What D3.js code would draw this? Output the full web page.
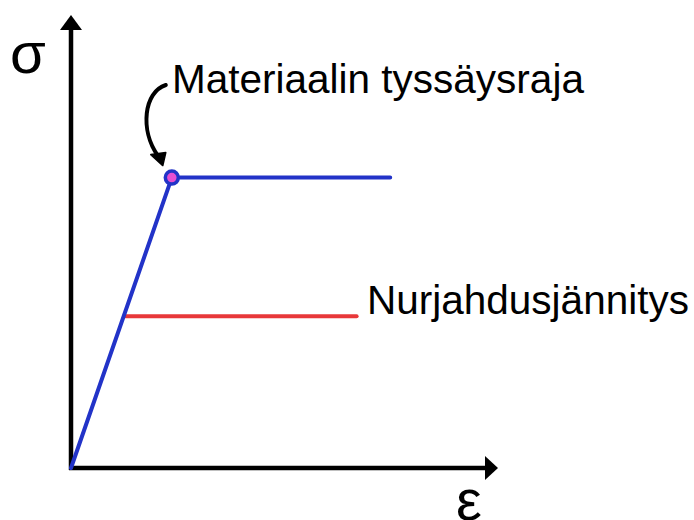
<!DOCTYPE html>
<html>
<head>
<meta charset="utf-8">
<script src="https://cdn.jsdelivr.net/npm/d3@7"></script>
<style>
  body { margin: 0; background: #fff; }
  text { font-family: 'Liberation Sans', Arial, sans-serif; fill: #000; }
</style>
</head>
<body>
<svg id="chart"></svg>
<script>
const W = 694
const H = 520

// strain / stress in arbitrary units (0..100)
const yieldCurve = [[0, 0], [24, 66], [76, 66]]
const bucklingLine = [[13, 34.5], [68, 34.5]]
const yieldPoint = [24, 66]
const labels = ['Materiaalin tyssäysraja', 'Nurjahdusjännitys']
const axisLabels = ['σ', 'ε']

const blue = '#2233c8'
const red = '#e8383a'

const x = d3.scaleLinear().domain([0, 100]).range([71, 491])
const y = d3.scaleLinear().domain([0, 100]).range([468, 28])

const svg = d3.select('#chart').attr('width', W).attr('height', H)

const line = d3.line().x(d => x(d[0])).y(d => y(d[1]))

// axes
svg.append('line')
  .attr('x1', x(0)).attr('y1', y(0) + 2)
  .attr('x2', x(0)).attr('y2', 28)
  .attr('stroke', '#000').attr('stroke-width', 4.5)
svg.append('path')
  .attr('d', `M${x(0)},15 L${x(0) - 11},30 L${x(0) + 11},30 Z`)
  .attr('fill', '#000')

svg.append('line')
  .attr('x1', x(0) - 2).attr('y1', y(0))
  .attr('x2', 487).attr('y2', y(0))
  .attr('stroke', '#000').attr('stroke-width', 4.5)
svg.append('path')
  .attr('d', `M498,${y(0)} L485,${y(0) - 12} L485,${y(0) + 12} Z`)
  .attr('fill', '#000')

svg.append('text').attr('x', 10).attr('y', 73)
  .attr('font-size', 58).text(axisLabels[0])
// the reference crops the epsilon at the bottom edge
svg.append('text').attr('x', 456).attr('y', 520)
  .attr('font-size', 58).text(axisLabels[1])

// buckling stress
svg.append('path')
  .attr('d', line(bucklingLine))
  .attr('fill', 'none')
  .attr('stroke', red)
  .attr('stroke-width', 4)
  .attr('stroke-linecap', 'round')

// elastic-plastic curve
svg.append('path')
  .attr('d', line(yieldCurve))
  .attr('fill', 'none')
  .attr('stroke', blue)
  .attr('stroke-width', 4)
  .attr('stroke-linecap', 'round')
  .attr('stroke-linejoin', 'round')

svg.append('circle')
  .attr('cx', x(yieldPoint[0])).attr('cy', y(yieldPoint[1]))
  .attr('r', 6.5)
  .attr('fill', '#e64fd2')
  .attr('stroke', blue)
  .attr('stroke-width', 3.5)

// curved pointer to the yield point
const px = x(yieldPoint[0])
const py = y(yieldPoint[1])
svg.append('path')
  .attr('d', `M${px - 6},85 C${px - 28},92 ${px - 32},130 ${px - 14},${py - 22}`)
  .attr('fill', 'none')
  .attr('stroke', '#000')
  .attr('stroke-width', 4)
  .attr('stroke-linecap', 'round')
svg.append('path')
  .attr('d', `M${px - 9},${py - 12} L${px - 21},${py - 23} L${px - 6},${py - 25} Z`)
  .attr('fill', '#000')
  .attr('stroke', '#000')
  .attr('stroke-width', 1.5)
  .attr('stroke-linejoin', 'round')

svg.append('text').attr('x', 172).attr('y', 93)
  .attr('font-size', 40.5).text(labels[0])
svg.append('text').attr('x', 367).attr('y', 314)
  .attr('font-size', 40.5).text(labels[1])
</script>
</body>
</html>
